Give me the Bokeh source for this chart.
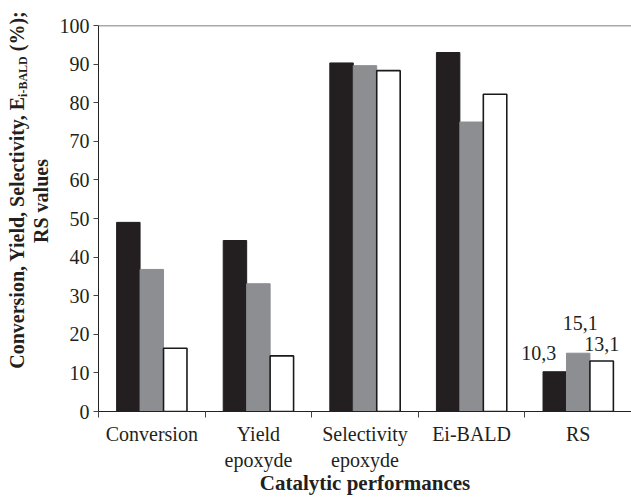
import math
from bokeh.plotting import figure
from bokeh.layouts import row
from bokeh.models import Range1d, FixedTicker, Span, Label, ColumnDataSource, Div
from bokeh.embed import file_html
from bokeh.resources import INLINE

categories = ["Conversion", "Yield\nepoxyde", "Selectivity\nepoxyde", "Ei-BALD", "RS"]
series_black = [49.0, 44.3, 90.3, 93.0, 10.3]
series_gray = [36.8, 33.1, 89.6, 75.0, 15.1]
series_white = [16.4, 14.4, 88.3, 82.2, 13.1]
y_ticks = [0, 10, 20, 30, 40, 50, 60, 70, 80, 90, 100]
rs_labels = ["10,3", "15,1", "13,1"]
y_title_main = "Conversion, Yield, Selectivity, E"
y_title_sub = "i-BALD"
y_title_end = " (%);"
y_title_line2 = "RS values"

FONT = "Liberation Serif"
TXT = "#231f20"
n = len(categories)
centers = [i + 0.5 for i in range(n)]
bw = 0.22
LEFT_W = 56
H = 497

p = figure(width=631 - LEFT_W, height=H, output_backend="svg", toolbar_location=None,
           x_range=Range1d(0, n), y_range=Range1d(0, 100),
           min_border_left=97 - LEFT_W, min_border_right=0, min_border_top=25, min_border_bottom=86)
p.outline_line_color = None
p.xgrid.visible = False
p.ygrid.visible = False

colors = [("#231f20", "#231f20", 1), ("#8d8e92", "#8d8e92", 1), ("white", "#1a1a1a", 1.6)]
for k, (vals, (fc, lc, lw)) in enumerate(zip([series_black, series_gray, series_white], colors)):
    xs = [c + (k - 1) * bw for c in centers]
    src = ColumnDataSource(dict(x=xs, top=vals))
    p.vbar(x="x", top="top", width=bw, bottom=0, source=src,
           fill_color=fc, line_color=lc, line_width=lw)

# RS value labels
rs_idx = n - 1
rs_vals = [series_black[rs_idx], series_gray[rs_idx], series_white[rs_idx]]
offsets = [(-16, 12), (2, 23), (0, 10)]
for k, (txt, v, (dx, dy)) in enumerate(zip(rs_labels, rs_vals, offsets)):
    p.add_layout(Label(x=centers[rs_idx] + (k - 1) * bw, y=v, text=txt,
                       x_offset=dx, y_offset=dy, text_align="center", text_baseline="bottom",
                       text_font=FONT, text_font_size="20px", text_color=TXT))

# top border line
p.add_layout(Span(location=100, dimension="width", line_color="#555555", line_width=1.5))

# y axis
ya = p.yaxis[0]
ya.ticker = FixedTicker(ticks=y_ticks)
ya.major_tick_in = 0
ya.major_tick_out = 5
ya.minor_tick_line_color = None
ya.axis_line_color = "#222222"
ya.major_tick_line_color = "#444444"
ya.major_label_text_font = FONT
ya.major_label_text_font_size = "20px"
ya.major_label_text_color = TXT
ya.major_label_standoff = 4

# x axis
xa = p.xaxis[0]
xa.ticker = FixedTicker(ticks=centers, minor_ticks=list(range(n + 1)))
xa.major_label_overrides = {c: lab for c, lab in zip(centers, categories)}
xa.major_tick_line_color = None
xa.major_tick_out = 0
xa.major_tick_in = 0
xa.minor_tick_in = 0
xa.minor_tick_out = 6
xa.minor_tick_line_color = "#444444"
xa.axis_line_color = "#222222"
xa.major_label_text_font = FONT
xa.major_label_text_font_size = "20px"
xa.major_label_text_color = TXT
xa.major_label_standoff = 5
xa.axis_label = "Catalytic performances"
xa.axis_label_text_font = FONT
xa.axis_label_text_font_size = "21px"
xa.axis_label_text_font_style = "bold"
xa.axis_label_text_color = TXT
xa.axis_label_standoff = -3

# left panel: rotated two-line y-axis title with a real subscript
BOX_W, BOX_H = 380, 50
cx, cy = 30, 190
html = (
    f'<div style="position:absolute; left:{cx - BOX_W / 2}px; top:{cy - BOX_H / 2}px; '
    f'width:{BOX_W}px; height:{BOX_H}px; transform:rotate(-90deg); transform-origin:50% 50%; '
    f'text-align:center; font-family:\'{FONT}\'; font-weight:bold; font-size:20px; '
    f'line-height:24px; color:{TXT}; white-space:nowrap;">'
    f'{y_title_main}<sub style="font-size:12px; line-height:0; vertical-align:-3px;">{y_title_sub}</sub>{y_title_end}<br>'
    f'<span style="padding-right:22px;">{y_title_line2}</span></div>'
)
div = Div(text=html, width=LEFT_W, height=H, margin=0,
          styles={"position": "relative", "overflow": "visible"})

layout = row(div, p, spacing=0)
open("out.html", "w").write(file_html(layout, INLINE))
